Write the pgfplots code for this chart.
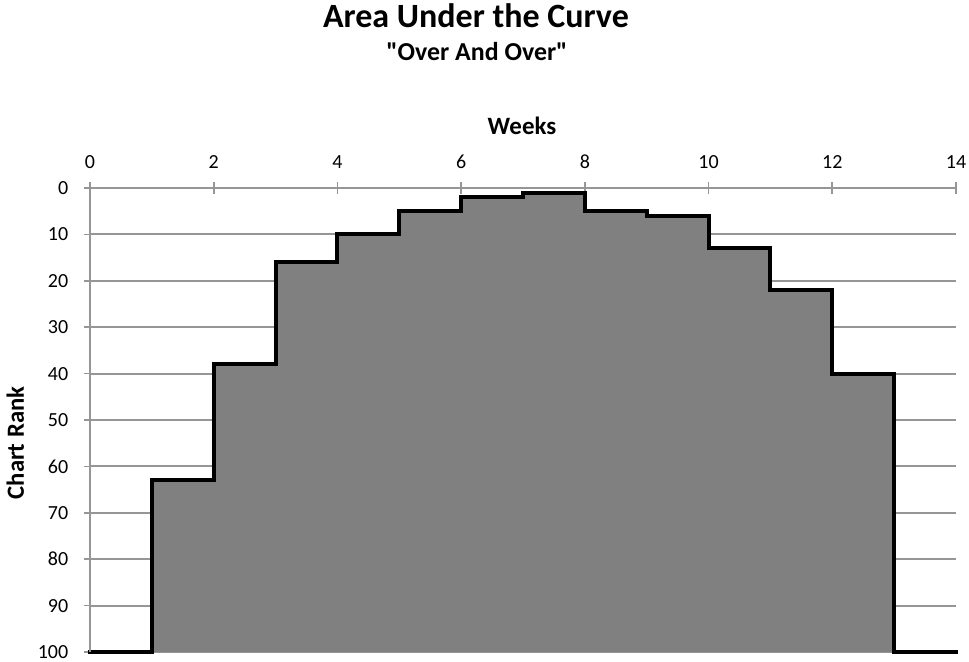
\documentclass[border=0pt]{standalone}
\usepackage{pgfplots}
\pgfplotsset{compat=1.18}
\usepackage{fontspec}
\setmainfont{Carlito}[Ligatures=TeXOff]
\definecolor{gridc}{RGB}{150,150,150}
\begin{document}
\begin{tikzpicture}[x=0.75pt,y=0.75pt]
\begin{axis}[
  at={(0,0)}, anchor=south west,
  scale only axis,
  width=649.5pt, height=348pt,
  xmin=0, xmax=14, ymin=0, ymax=100,
  y dir=reverse,
  clip=false,
  axis line style={draw=none},
  xtick={0,2,...,14},
  ytick={0,10,...,100},
  xtick pos=right, xticklabel pos=right,
  ytick pos=left,
  tick style={gridc, line width=1.2pt},
  tick align=center,
  major tick length=9pt,
  ymajorgrids,
  grid style={gridc, line width=1.5pt},
  /pgf/number format/assume math mode=true,
  ticklabel style={font=\fontsize{15pt}{18pt}\selectfont, inner sep=1pt},
  xticklabel style={yshift=8.8pt},
  yticklabel style={xshift=-10.6pt},
]
\addplot[const plot, fill=gray, draw=none] coordinates {
 (0,100) (1,63) (2,38) (3,16) (4,10) (5,5) (6,2) (7,1) (8,5) (9,6) (10,13) (11,22) (12,40) (13,100) (14,100)
} -- cycle;
\addplot[const plot, black, line width=3pt, line join=miter, line cap=rect] coordinates {
 (0,100) (1,63) (2,38) (3,16) (4,10) (5,5) (6,2) (7,1) (8,5) (9,6) (10,13) (11,22) (12,40) (13,100) (14,100)
};
\draw[gridc, line width=1.5pt] (axis cs:0,0) -- (axis cs:0,100);
\end{axis}
\node[anchor=base, font=\fontsize{25.5pt}{30pt}\selectfont\bfseries] at (386,624) {Area Under the Curve};
\node[anchor=base, font=\fontsize{19.4pt}{23pt}\selectfont\bfseries] at (387,591) {"Over And Over"};
\node[anchor=base, font=\fontsize{18.7pt}{22pt}\selectfont\bfseries] at (432,517) {Weeks};
\node[anchor=base, rotate=90, font=\fontsize{18.5pt}{22pt}\selectfont\bfseries] at (-66,209) {Chart Rank};
\pgfresetboundingbox
\path[use as bounding box] (-90,-9) rectangle (879,652);
\end{tikzpicture}
\end{document}
